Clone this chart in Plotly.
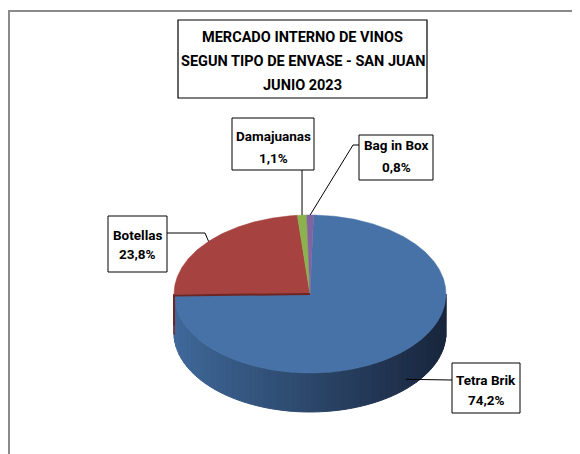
import numpy as np
import plotly.graph_objects as go

# ---------------- data ----------------
categories = ["Tetra Brik", "Botellas", "Damajuanas", "Bag in Box"]
values = [74.2, 23.8, 1.1, 0.8]
value_labels = ["74,2%", "23,8%", "1,1%", "0,8%"]
title_lines = ["MERCADO INTERNO DE VINOS", "SEGUN TIPO DE ENVASE - SAN JUAN", "JUNIO 2023"]

# ---------------- styles ----------------
face_colors = ["#4672a8", "#a6423f", "#8cb24e", "#8064a2"]
side_light = ["#3f6899", "#7a2b29", "#6a8a3a", "#5f4a7c"]
side_dark = ["#18253c", "#4a1816", "#3e5220", "#3a2c4c"]
FONT = "Roboto, Liberation Sans, Arial, sans-serif"

CX, CY, RX, RY, DEPTH = 310, 294, 136, 79, 39
START = 1.5


def pt(theta, dy=0.0):
    t = np.radians(theta)
    return CX + RX * np.sin(t), CY + dy - RY * np.cos(t)


def hex2rgb(h):
    h = h.lstrip("#")
    return [int(h[i:i + 2], 16) for i in (0, 2, 4)]


def lerp(c1, c2, f):
    a, b = hex2rgb(c1), hex2rgb(c2)
    return "rgb(%d,%d,%d)" % tuple(round(a[i] + (b[i] - a[i]) * f) for i in range(3))


total = sum(values)
bounds = []
acc = START
for v in values:
    a0 = acc
    a1 = acc + v / total * 360.0
    bounds.append((a0, a1))
    acc = a1

fig = go.Figure()

# outer chart frame (only top and left edges are in view)
fig.add_trace(go.Scatter(x=[9, 9, 600], y=[470, 11, 11], mode="lines",
                         line=dict(color="#8a8a8a", width=2),
                         hoverinfo="skip", showlegend=False))

# ---- sides (front half: 90..270 deg) ----
for i, (a0, a1) in enumerate(bounds):
    s0, s1 = max(a0, 90), min(a1, 270)
    if s1 <= s0:
        continue
    n = max(1, int(np.ceil((s1 - s0) / 3.0)))
    edges = np.linspace(s0, s1, n + 1)
    for k in range(n):
        e0, e1 = edges[k], edges[k + 1]
        th = np.linspace(e0, e1, 4)
        xs_top = [pt(t)[0] for t in th]
        ys_top = [pt(t)[1] for t in th]
        xs_bot = [pt(t, DEPTH)[0] for t in th[::-1]]
        ys_bot = [pt(t, DEPTH)[1] for t in th[::-1]]
        xm = pt((e0 + e1) / 2)[0]
        f = (xm - (CX - RX)) / (2 * RX)
        col = lerp(side_light[i], side_dark[i], f)
        fig.add_trace(go.Scatter(
            x=xs_top + xs_bot + [xs_top[0]], y=ys_top + ys_bot + [ys_top[0]],
            mode="lines", fill="toself", fillcolor=col,
            line=dict(color=col, width=1), hoverinfo="skip", showlegend=False))

# ---- top faces ----
for i, (a0, a1) in enumerate(bounds):
    th = np.linspace(a0, a1, max(3, int((a1 - a0) * 2)))
    xs = [CX] + [pt(t)[0] for t in th] + [CX]
    ys = [CY] + [pt(t)[1] for t in th] + [CY]
    fig.add_trace(go.Scatter(
        x=xs, y=ys, mode="lines", fill="toself", fillcolor=face_colors[i],
        line=dict(color=face_colors[i], width=0.5), name=categories[i],
        hoverinfo="name", showlegend=False))

# dark edge along Botellas' lower radius
ex, ey = pt(bounds[1][0])
fig.add_trace(go.Scatter(x=[CX, ex, ex], y=[CY, ey, ey + 30], mode="lines",
                         line=dict(color="#6e2624", width=2),
                         hoverinfo="skip", showlegend=False))

# ---------------- labels ----------------
mids = [(a0 + a1) / 2 for a0, a1 in bounds]
label_boxes = {
    "Tetra Brik": (452, 363, 520, 413),
    "Botellas": (108, 216, 167, 272),
    "Damajuanas": (232, 118, 314, 170),
    "Bag in Box": (359, 135, 433, 180),
}
label_line_y = {
    "Tetra Brik": (380, 400),
    "Botellas": (235, 254),
    "Damajuanas": (136, 158),
    "Bag in Box": (145, 167),
}
leader_start = {
    "Tetra Brik": [(452, 380)],
    "Botellas": [(167, 233), (205, 233)],
    "Damajuanas": [(301, 170)],
    "Bag in Box": [(359, 145), (353, 145)],
}
anchor_depth = {"Tetra Brik": DEPTH * 0.75, "Botellas": 0, "Damajuanas": 0, "Bag in Box": 0}

shapes = []
annotations = []
for i, cat in enumerate(categories):
    ax_, ay_ = pt(mids[i], anchor_depth[cat])
    pts = leader_start[cat] + [(ax_, ay_)]
    if cat == "Damajuanas":
        pts = [(ax_, 170), (ax_, ay_)]
    fig.add_trace(go.Scatter(x=[p[0] for p in pts], y=[p[1] for p in pts], mode="lines",
                             line=dict(color="black", width=1), hoverinfo="skip",
                             showlegend=False))
    x0, y0, x1, y1 = label_boxes[cat]
    shapes.append(dict(type="rect", xref="x", yref="y", x0=x0, y0=y0, x1=x1, y1=y1,
                       line=dict(color="black", width=1), fillcolor="white", layer="above"))
    for txt, yy in zip([cat, value_labels[i]], label_line_y[cat]):
        annotations.append(dict(x=(x0 + x1) / 2, y=yy, xref="x", yref="y",
                                text="<b>%s</b>" % txt, showarrow=False,
                                font=dict(family=FONT, size=13.5, color="black"),
                                xanchor="center", yanchor="middle"))

# title box
shapes.append(dict(type="rect", xref="x", yref="y", x0=178, y0=20, x1=427, y1=98,
                   line=dict(color="black", width=1.2), fillcolor="white", layer="above"))
for txt, yy in zip(title_lines, [37, 61, 85]):
    annotations.append(dict(x=302.5, y=yy, xref="x", yref="y", text="<b>%s</b>" % txt,
                            showarrow=False, font=dict(family=FONT, size=14.5, color="black"),
                            xanchor="center", yanchor="middle"))

# page body has an 8px margin: keep the figure inside the window
fig.update_layout(
    width=572, height=446,
    margin=dict(l=0, r=0, t=0, b=0),
    paper_bgcolor="white", plot_bgcolor="white",
    xaxis=dict(range=[8, 580], visible=False, fixedrange=True),
    yaxis=dict(range=[454, 8], visible=False, fixedrange=True),
    shapes=shapes, annotations=annotations,
    showlegend=False,
)

fig.write_html("out.html")
